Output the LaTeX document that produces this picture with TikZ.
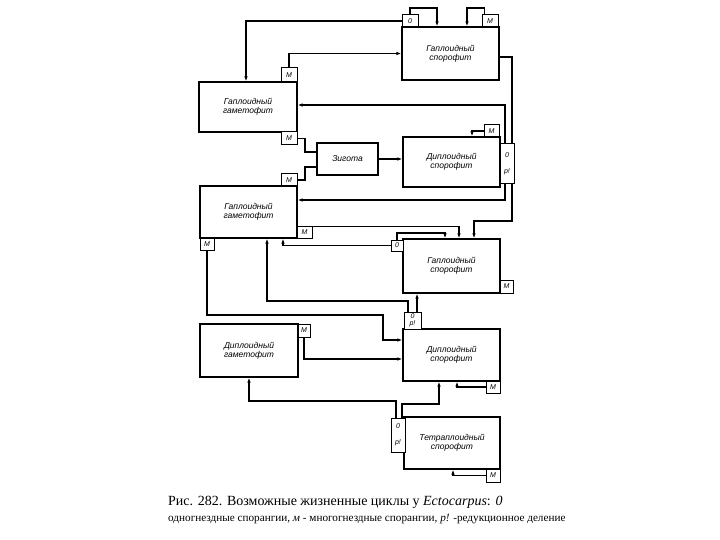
\documentclass[tikz,border=0pt]{standalone}
\usepackage{fontspec}
\setmainfont{Liberation Serif}
\newfontfamily\lblfont{Liberation Sans}
\usetikzlibrary{arrows.meta,calc}
\pgfdeclarelayer{background}
\pgfsetlayers{background,main}
\begin{document}
\begin{tikzpicture}[x=1pt,y=-1pt,
  box/.style={draw, line width=1.2pt, fill=white, inner sep=0pt, align=center,
    font=\lblfont\itshape\fontsize{8.5}{9}\selectfont},
  tab/.style={draw, line width=1pt, fill=white, inner sep=0pt, align=center,
    font=\lblfont\itshape\fontsize{7}{7.5}\selectfont},
  conn/.style={line width=1.1pt},
  arr/.style={conn, -{Latex[length=5pt,width=3.5pt]}},
]
\useasboundingbox (0,0) rectangle (720,540);

% boxes
\node[box, minimum width=97pt, minimum height=53pt] (hs1) at (450.5,53.5) {Гаплоидный\\спорофит};
\node[box, minimum width=98pt, minimum height=50pt] (hg1) at (248,107) {Гаплоидный\\гаметофит};
\node[box, minimum width=61pt, minimum height=32pt] (zyg) at (347.5,159) {Зигота};
\node[box, minimum width=97pt, minimum height=50pt] (ds1) at (451.5,162) {Диплоидный\\спорофит};
\node[box, minimum width=97pt, minimum height=52pt] (hg2) at (248.5,212) {Гаплоидный\\гаметофит};
\node[box, minimum width=97pt, minimum height=54pt] (hs2) at (451.5,266) {Гаплоидный\\спорофит};
\node[box, minimum width=98pt, minimum height=53pt] (dg) at (249,350.5) {Диплоидный\\гаметофит};
\node[box, minimum width=97pt, minimum height=52pt] (ds2) at (451.5,355) {Диплоидный\\спорофит};
\node[box, minimum width=96pt, minimum height=52pt] (ts) at (452,443) {Тетраплоидный\\спорофит};

% tabs
\node[tab, minimum width=16pt, minimum height=12pt] (t1o) at (410,21) {0};
\node[tab, minimum width=16pt, minimum height=12pt] (t1m) at (490,21) {М};
\node[tab, minimum width=16pt, minimum height=14pt] (t2mt) at (289,75) {М};
\node[tab, minimum width=16pt, minimum height=13pt] (t2mb) at (289,138.5) {М};
\node[tab, minimum width=15pt, minimum height=12pt] (t4m) at (491.5,131) {М};
\node[tab, minimum width=14pt, minimum height=40pt] (t4r) at (507,164) {0\\[8pt]р!};
\node[tab, minimum width=16pt, minimum height=12pt] (t5mt) at (289,180) {М};
\node[tab, minimum width=15pt, minimum height=11pt] (t5mr) at (304.5,232.5) {М};
\node[tab, minimum width=14pt, minimum height=12pt] (t5ml) at (207,244) {М};
\node[tab, minimum width=12pt, minimum height=11pt] (t6o) at (397,245.5) {0};
\node[tab, minimum width=13pt, minimum height=13pt] (t6m) at (506.5,286.5) {М};
\node[tab, minimum width=12pt, minimum height=13pt] (t7m) at (304,330.5) {М};
\node[tab, minimum width=17pt, minimum height=17pt] (t8o) at (412.5,320.5) {0\\р!};
\node[tab, minimum width=14pt, minimum height=12pt] (t8m) at (493,387) {М};
\node[tab, minimum width=14pt, minimum height=34pt] (t9o) at (398,435) {0\\[8pt]р!};
\node[tab, minimum width=14pt, minimum height=13pt] (t9m) at (493,475.5) {М};

% connectors
\begin{pgfonlayer}{background}
\draw[arr] (t1o.west) -| (hg1.north -| 246,0);
\draw[arr] (t2mt.north) |- (hs1.west);
\draw[arr] (t1o.north) |- (437,8) -- (437,8 |- hs1.north);
\draw[arr] ($(t1m.north west)+(3,0)$) |- (467,8) -- (467,8 |- hs1.north);
\draw[arr] (hs1.east |- 0,57) -| (512,221) -| (474,0 |- hs2.north);
\draw[arr] (505,0 |- t4r.north) |- (hg1.east |- 0,105);
\draw[arr] (505,0 |- t4r.south) |- (hg2.east |- 0,200);
\draw[conn] (t2mb.east) -| (305,152) -- (zyg.west |- 0,152);
\draw[conn] (t5mt.east) -| (305,167) -- (zyg.west |- 0,167);
\draw[arr] (zyg.east) -- (zyg.east -| ds1.west);
\draw[arr] (t4m.west) -| (472,0 |- ds1.north);
\draw[arr] (t5mr.north east) -| (459,0 |- hs2.north);
\draw[arr] (t6o.north) |- (445,233) -- (445,0 |- hs2.north);
\draw[arr] (t6o.west) -| (283,0 |- hg2.south);
\draw[arr] (408,0 |- t8o.north) |- (267,301) -- (267,0 |- hg2.south);
\draw[arr] (417,0 |- t8o.north) -- (417,0 |- hs2.south);
\draw[arr] (t5ml.south) |- (383,315) |- (ds2.west |- 0,340);
\draw[arr] (t7m.south) |- (ds2.west |- 0,359);
\draw[arr] (t8m.west) -| (457,0 |- ds2.south);
\draw[arr] (396,0 |- t9o.north) |- (249,401) -- (249,0 |- dg.south);
\draw[arr] (402,0 |- t9o.north) |- (439,404) -- (439,0 |- ds2.south);
\draw[arr] (t9m.west) -| (453,0 |- ts.south);
\end{pgfonlayer}

% caption
\node[anchor=base west, inner sep=0pt, font=\fontsize{14}{16}\selectfont] (cap1) at (168,505)
  {Рис. 282. Возможные жизненные циклы у \textit{Ectocarpus}: \textit{0}};
\node[anchor=base west, inner sep=0pt, font=\fontsize{11.2}{13}\selectfont] (cap2) at (168,521)
  {одногнездные спорангии, \textit{м} - многогнездные спорангии, \textit{р!} -редукционное деление};
\end{tikzpicture}
\end{document}
